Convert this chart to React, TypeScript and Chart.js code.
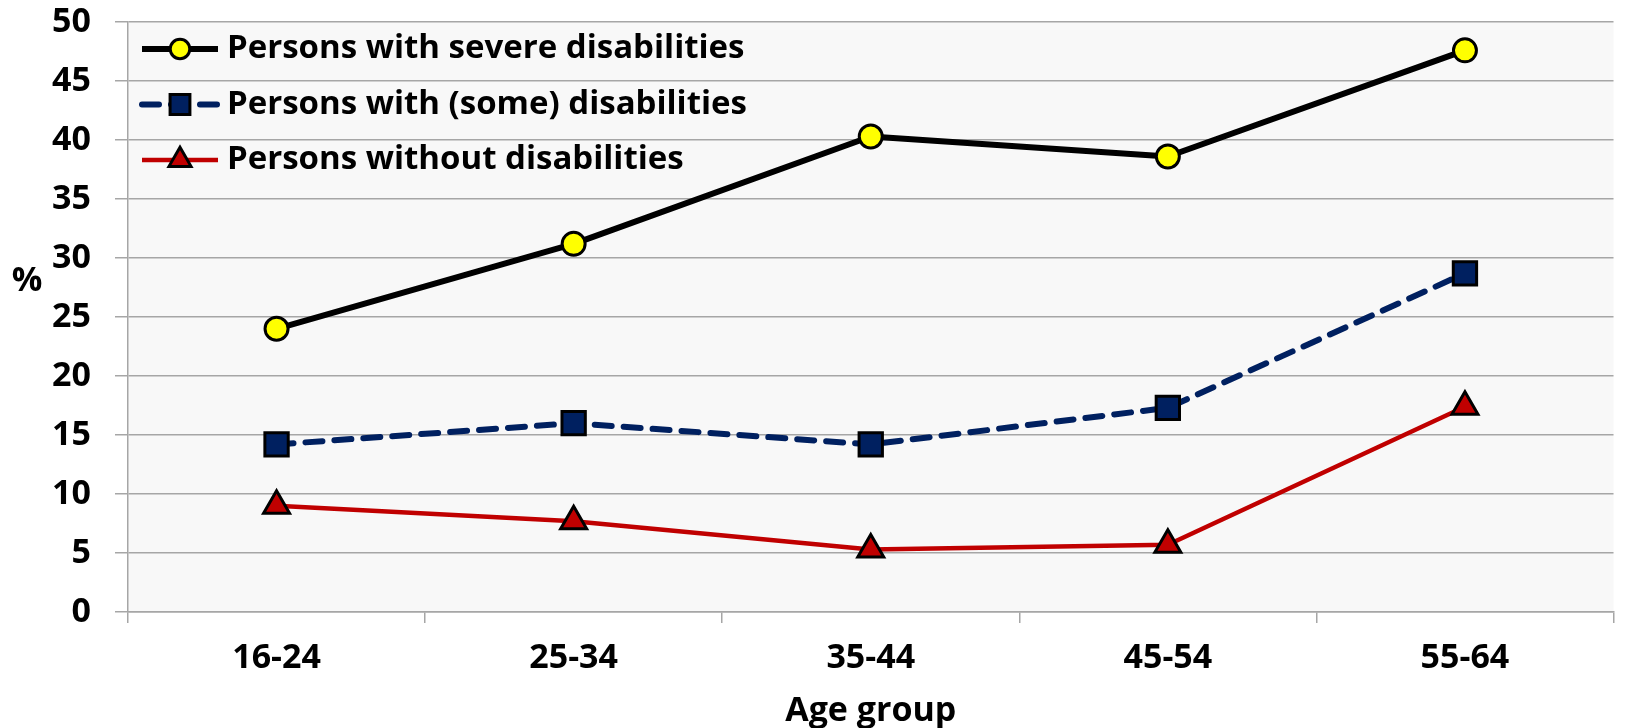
import { useEffect, useRef } from "react";
import { Chart, registerables } from "chart.js";

Chart.register(...registerables);

const ageGroups = ["16-24", "25-34", "35-44", "45-54", "55-64"];
const severe = [24.0, 31.2, 40.3, 38.6, 47.6];
const someDisab = [14.2, 16.0, 14.2, 17.3, 28.7];
const withoutDisab = [9.0, 7.7, 5.3, 5.7, 17.4];
const seriesNames = [
  "Persons with severe disabilities",
  "Persons with (some) disabilities",
  "Persons without disabilities",
];
const yTicks = [0, 50, 5]; // min, max, step

const FONT = "'Open Sans', 'Liberation Sans', sans-serif";
const GRID = "#a6a6a6";

function drawMarker(ctx: CanvasRenderingContext2D, style: string, x: number, y: number, r: number) {
  ctx.beginPath();
  if (style === "circle") {
    ctx.arc(x, y, r, 0, Math.PI * 2);
  } else if (style === "rect") {
    const s = Math.SQRT1_2 * r;
    ctx.rect(x - s, y - s, 2 * s, 2 * s);
  } else if (style === "triangle") {
    ctx.moveTo(x, y - r);
    ctx.lineTo(x + r * 0.866, y + r / 2);
    ctx.lineTo(x - r * 0.866, y + r / 2);
    ctx.closePath();
  }
  ctx.fill();
  ctx.stroke();
}

// legend drawn inside the plot: a line with its marker, then the label
const insideLegend = {
  id: "insideLegend",
  afterDatasetsDraw(chart: any) {
    const { ctx, chartArea } = chart;
    ctx.save();
    chart.data.datasets.forEach((ds: any, i: number) => {
      const y = chartArea.top + 27 + i * 55.5;
      const x0 = chartArea.left + 14;
      const x1 = chartArea.left + 90;
      ctx.strokeStyle = ds.borderColor;
      ctx.lineWidth = ds.borderWidth;
      ctx.lineCap = ds.borderDash ? "round" : "butt";
      ctx.setLineDash(ds.borderDash || []);
      ctx.beginPath();
      ctx.moveTo(x0, y);
      ctx.lineTo(x1, y);
      ctx.stroke();
      ctx.setLineDash([]);
      ctx.fillStyle = ds.pointBackgroundColor;
      ctx.strokeStyle = ds.pointBorderColor;
      ctx.lineWidth = ds.pointBorderWidth;
      drawMarker(ctx, ds.pointStyle, (x0 + x1) / 2, y, ds.pointRadius * 0.85);
      ctx.fillStyle = "#000";
      ctx.font = `bold 33px ${FONT}`;
      ctx.textAlign = "left";
      ctx.textBaseline = "middle";
      ctx.fillText(ds.label, chartArea.left + 99, y);
    });
    ctx.restore();
  },
};

const plotBackground = {
  id: "plotBackground",
  beforeDraw(chart: any) {
    const { ctx, chartArea } = chart;
    ctx.save();
    ctx.fillStyle = "#f8f8f8";
    ctx.fillRect(chartArea.left, chartArea.top, chartArea.width, chartArea.height);
    ctx.restore();
  },
};

// horizontal "%" label left of the y axis
const percentLabel = {
  id: "percentLabel",
  afterDraw(chart: any) {
    const { ctx } = chart;
    ctx.save();
    ctx.fillStyle = "#000";
    ctx.font = `bold 34px ${FONT}`;
    ctx.textAlign = "center";
    ctx.textBaseline = "middle";
    ctx.fillText("%", 27, 281);
    ctx.restore();
  },
};

export default function App() {
  const ref = useRef<HTMLCanvasElement>(null);

  useEffect(() => {
    document.body.style.margin = "0";
    if (!ref.current) return;
    const chart = new Chart(ref.current, {
      type: "line",
      data: {
        labels: ageGroups,
        datasets: [
          {
            label: seriesNames[0],
            data: severe,
            borderColor: "#000000",
            borderWidth: 6,
            borderJoinStyle: "round",
            pointStyle: "circle",
            pointRadius: 11.5,
            pointBackgroundColor: "#ffff00",
            pointBorderColor: "#000000",
            pointBorderWidth: 3,
          },
          {
            label: seriesNames[1],
            data: someDisab,
            borderColor: "#002060",
            borderWidth: 6,
            borderDash: [17, 12],
            borderCapStyle: "round",
            borderJoinStyle: "round",
            pointStyle: "rect",
            pointRadius: 16.5,
            pointBackgroundColor: "#002060",
            pointBorderColor: "#000000",
            pointBorderWidth: 3,
          },
          {
            label: seriesNames[2],
            data: withoutDisab,
            borderColor: "#c00000",
            borderWidth: 4.5,
            borderJoinStyle: "round",
            pointStyle: "triangle",
            pointRadius: 15,
            pointBackgroundColor: "#c00000",
            pointBorderColor: "#000000",
            pointBorderWidth: 3,
          },
        ],
      },
      options: {
        responsive: true,
        maintainAspectRatio: false,
        animation: false,
        layout: { padding: { top: 22, right: 1, left: 0, bottom: 0 } },
        plugins: {
          legend: { display: false },
          tooltip: { enabled: false },
        },
        scales: {
          x: {
            offset: true,
            grid: {
              offset: true,
              drawOnChartArea: false,
              drawTicks: true,
              tickLength: 11,
              color: GRID,
              lineWidth: 1.5,
            },
            border: { display: true, color: GRID, width: 1.5 },
            ticks: {
              color: "#000",
              font: { family: FONT, size: 34, weight: "bold" },
              padding: 15,
              maxRotation: 0,
              autoSkip: false,
            },
            title: {
              display: true,
              text: "Age group",
              color: "#000",
              font: { family: FONT, size: 34, weight: "bold", lineHeight: 1 },
              padding: { top: 0, bottom: 0 },
            },
            afterFit: (axis: any) => {
              axis.height = 116;
            },
          },
          y: {
            min: yTicks[0],
            max: yTicks[1],
            grid: { color: GRID, lineWidth: 1.5, tickLength: 13 },
            border: { display: true, color: GRID, width: 1.5 },
            ticks: {
              stepSize: yTicks[2],
              color: "#000",
              font: { family: FONT, size: 34, weight: "bold" },
              padding: 24,
            },
            afterFit: (axis: any) => {
              axis.width = 128;
              axis.paddingTop = 0;
              axis.paddingBottom = 0;
            },
          },
        },
      },
      plugins: [plotBackground, insideLegend, percentLabel],
    });
    return () => {
      chart.destroy();
    };
  }, []);

  return (
    <div style={{ position: "relative", width: "100vw", height: "100vh" }}>
      <canvas ref={ref} />
    </div>
  );
}
